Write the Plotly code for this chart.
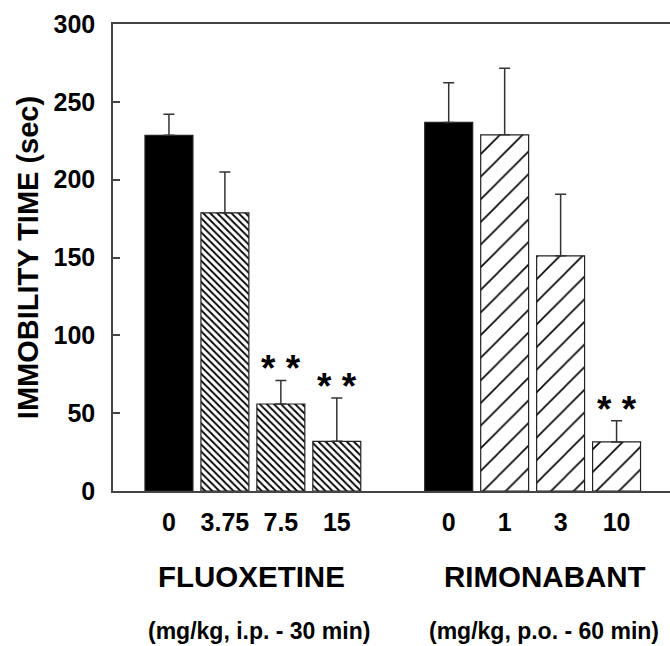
import plotly.graph_objects as go

# ---- data ----
groups = ["FLUOXETINE", "RIMONABANT"]
group_units = ["(mg/kg, i.p. - 30 min)", "(mg/kg, p.o. - 60 min)"]
fluox_doses = ["0", "3.75", "7.5", "15"]
fluox_means = [228.5, 178.7, 55.9, 31.9]
fluox_sem = [13.5, 26.3, 15.1, 27.8]
fluox_sig = ["", "", "* *", "* *"]
rimo_doses = ["0", "1", "3", "10"]
rimo_means = [236.8, 228.8, 151.1, 31.5]
rimo_sem = [25.4, 42.7, 39.6, 13.7]
rimo_sig = ["", "", "", "* *"]
y_ticks = [0, 50, 100, 150, 200, 250, 300]

FONT = "Liberation Sans, Arial, Helvetica, sans-serif"

fig = go.Figure()
all_x, all_labels = [], []
annotations = []
datasets = [(fluox_doses, fluox_means, fluox_sem, fluox_sig, "\\", 5, 0.36),
            (rimo_doses, rimo_means, rimo_sem, rimo_sig, "/", 16, 0.1)]

def add_bars(x, y, e, pattern):
    marker = dict(color="black" if pattern is None else "white",
                  line=dict(color="#222", width=1.2))
    if pattern is not None:
        marker["pattern"] = pattern
    fig.add_trace(go.Bar(
        x=x, y=y, width=0.857, marker=marker,
        error_y=dict(type="data", symmetric=False, array=e,
                     arrayminus=[0] * len(e), color="#333",
                     thickness=1.5, width=5.5),
        showlegend=False))

for g, (doses, means, sem, sig, shp, sz, sol) in enumerate(datasets):
    xs = [g * 5 + i for i in range(len(doses))]
    all_x += xs
    all_labels += doses
    # control (first) bar solid black, dose bars hatched
    add_bars(xs[:1], means[:1], sem[:1], None)
    add_bars(xs[1:], means[1:], sem[1:],
             dict(shape=shp, size=sz, solidity=sol, fgcolor="black",
                  bgcolor="white", fillmode="replace"))
    for x, m, s, t in zip(xs, means, sem, sig):
        if t:
            annotations.append(dict(x=x, y=m + s, xref="x", yref="y", text="<b>" + t + "</b>",
                                    showarrow=False, yanchor="bottom", yshift=-11,
                                    font=dict(family=FONT, size=37, color="black")))

grp_x = [1.48, 6.72]
unit_x = [1.61, 6.71]
for gx, ux, gname, unit in zip(grp_x, unit_x, groups, group_units):
    annotations.append(dict(x=gx, y=-0.184, xref="x", yref="paper", text="<b>" + gname + "</b>",
                            showarrow=False, yanchor="middle",
                            font=dict(family=FONT, size=29.5, color="black")))
    annotations.append(dict(x=ux, y=-0.30, xref="x", yref="paper", text="<b>" + unit + "</b>",
                            showarrow=False, yanchor="middle",
                            font=dict(family=FONT, size=23, color="black")))

fig.update_layout(
    width=670, height=646,
    margin=dict(l=113, r=0, t=24, b=155),
    paper_bgcolor="white", plot_bgcolor="white",
    annotations=annotations,
    xaxis=dict(range=[-1, 8.955], tickvals=all_x, ticktext=["<b>" + l + "</b>" for l in all_labels],
               showline=True, mirror=True, linecolor="#444", linewidth=1.5,
               ticks="", showgrid=False, zeroline=False, ticklabelstandoff=8,
               tickfont=dict(family=FONT, size=25, color="black")),
    yaxis=dict(range=[0, 300], tickvals=y_ticks, ticktext=["<b>%d</b>" % v for v in y_ticks],
               showline=True, linecolor="#444", linewidth=1.5,
               ticks="inside", ticklen=7, tickwidth=1.5, tickcolor="#444",
               showgrid=False, zeroline=False, ticklabelstandoff=11,
               tickfont=dict(family=FONT, size=25, color="black")),
)
fig.update_yaxes(title=dict(text="<b>IMMOBILITY TIME (sec)</b>", standoff=6,
                            font=dict(family=FONT, size=29, color="black")))

fig.write_html("out.html")
